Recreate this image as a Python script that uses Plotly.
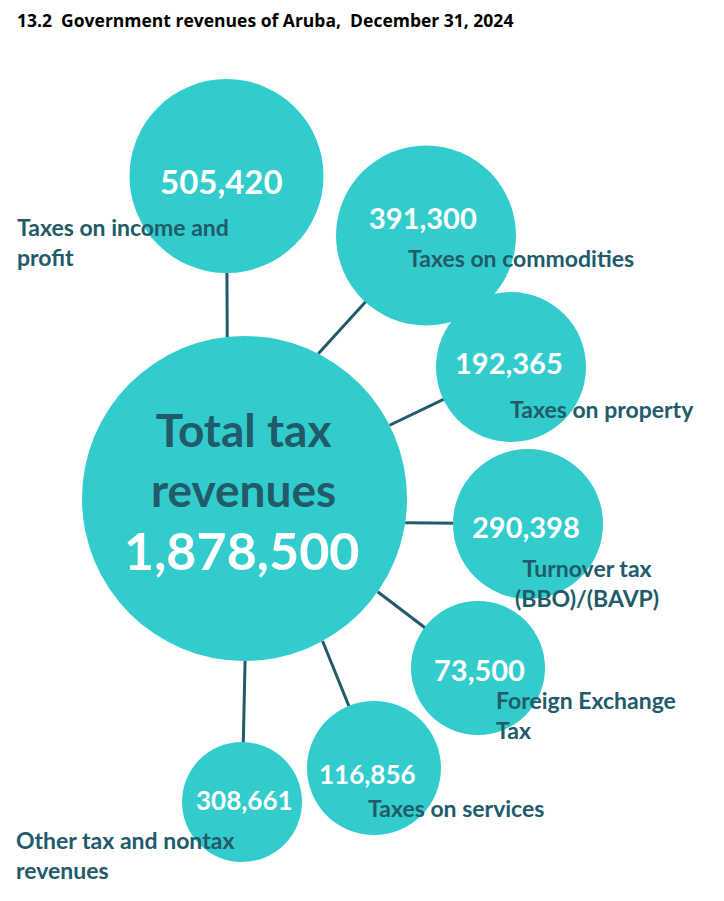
import math
import plotly.graph_objects as go

# data
categories = ["Taxes on income and<br>profit", "Taxes on commodities", "Taxes on property",
              "Turnover tax<br>(BBO)/(BAVP)", "Foreign Exchange<br>Tax", "Taxes on services",
              "Other tax and nontax<br>revenues"]
values = [505420, 391300, 192365, 290398, 73500, 116856, 308661]
total_label = "Total tax<br>revenues"
total_value = 1878500

# layout of the diagram (pixel coordinates, y down)
hub = (244.5, 498.5)
hub_r = 162.5
centers = [(226.5, 176), (426, 235.5), (511, 367), (528, 524), (478, 668), (374, 768), (242, 802)]
radii = [97, 90, 75, 75, 67, 67, 60]
attach_deg = [96.1, 63.0, 26.8, -8.6, -35.0, -61.3, -89.8]
value_pos = [(221, 181), (423, 217), (509, 362), (526, 526), (479, 669), (367, 774), (244, 800)]
value_size = [33, 29, 29, 29, 29, 26, 26]
label_pos = [(15, 242, "left"), (406, 258, "left"), (508, 409, "left"), (587, 583, "center"),
             (494, 715, "left"), (366, 808, "left"), (14, 855, "left")]

teal = "#33CCCC"
dark = "#215A69"
font = "Lato"
off = 8  # page body margin of the html page

fig = go.Figure()

# connectors
lx, ly = [], []
for (cx, cy), a in zip(centers, attach_deg):
    px_ = hub[0] + hub_r * math.cos(math.radians(a))
    py_ = hub[1] - hub_r * math.sin(math.radians(a))
    lx += [px_, cx, None]
    ly += [py_, cy, None]
fig.add_trace(go.Scatter(x=lx, y=ly, mode="lines", line=dict(color=dark, width=3),
                         hoverinfo="skip", showlegend=False))

# bubbles
fig.add_trace(go.Scatter(
    x=[hub[0]] + [c[0] for c in centers],
    y=[hub[1]] + [c[1] for c in centers],
    mode="markers",
    marker=dict(color=teal, size=[2 * hub_r] + [2 * r for r in radii], line=dict(width=0), opacity=1),
    hoverinfo="skip", showlegend=False))

ann = []
for v, (x, y), s in zip(values, value_pos, value_size):
    ann.append(dict(x=x, y=y, text=f"<b>{v:,}</b>", showarrow=False,
                    font=dict(family=font, size=s, color="white"), xanchor="center", yanchor="middle"))
for c, (x, y, al) in zip(categories, label_pos):
    ann.append(dict(x=x, y=y, text=f"<b>{c}</b>", showarrow=False, align=al,
                    font=dict(family=font, size=23, color=dark), xanchor=al, yanchor="middle"))
ann.append(dict(x=243, y=459, text=f"<b>{total_label}</b>", showarrow=False,
                font=dict(family=font, size=46, color=dark), xanchor="center", yanchor="middle"))
ann.append(dict(x=241, y=550, text=f"<b>{total_value:,}</b>", showarrow=False,
                font=dict(family=font, size=52, color="white"), xanchor="center", yanchor="middle"))
ann.append(dict(x=15, y=20, text="<b>13.2  Government revenues of Aruba,  December 31, 2024</b>",
                showarrow=False, font=dict(family="Open Sans", size=17.5, color="black"),
                xanchor="left", yanchor="middle"))

fig.update_layout(
    width=724, height=901,
    margin=dict(l=0, r=0, t=0, b=0),
    paper_bgcolor="white", plot_bgcolor="white",
    xaxis=dict(range=[off, 724 + off], visible=False, fixedrange=True),
    yaxis=dict(range=[901 + off, off], visible=False, fixedrange=True),
    annotations=ann,
)

fig.write_html("out.html")
